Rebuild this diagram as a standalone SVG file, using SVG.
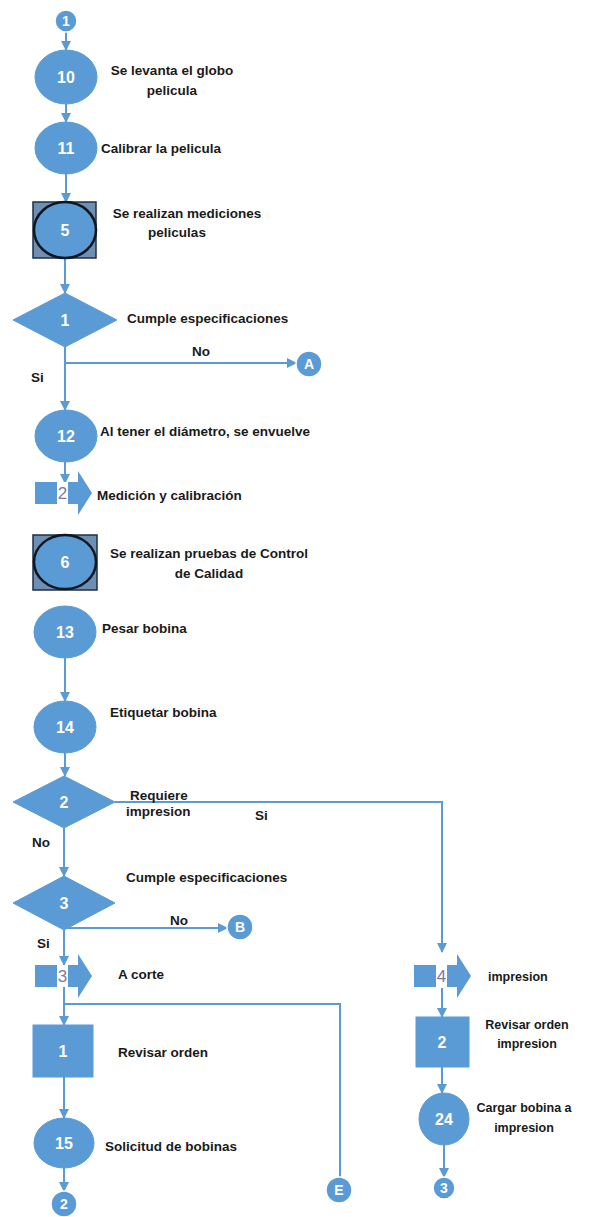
<svg xmlns="http://www.w3.org/2000/svg" width="595" height="1217" viewBox="0 0 595 1217">
<style>
.bg{fill:#ffffff}
.op{fill:#5B9BD5;stroke:#5B9BD5;stroke-width:1}
.ins{fill:#6F8EB4;stroke:#1E2F44;stroke-width:1.5}
.insc{fill:#5B9BD5;stroke:#0E1620;stroke-width:2.5}
.cn{fill:#5B9BD5;stroke:#ffffff;stroke-width:1.5}
.num{font-family:"Liberation Sans",Arial,sans-serif;font-weight:700;font-size:16px;fill:#ffffff;text-anchor:middle;dominant-baseline:central}
.cnum{font-family:"Liberation Sans",Arial,sans-serif;font-weight:700;font-size:14px;fill:#ffffff;text-anchor:middle;dominant-baseline:central}
.tnum{font-family:"Liberation Sans",Arial,sans-serif;font-weight:400;font-size:17px;fill:#7E7A9A;text-anchor:middle;dominant-baseline:central}
.lbl{font-family:"Liberation Sans",Arial,sans-serif;font-weight:700;font-size:13.5px;fill:#1a1a1a;dominant-baseline:central}
.sm{font-size:12.5px}
.mid{text-anchor:middle}
.ln{fill:none;stroke:#5B9BD5;stroke-width:2}
</style>
<defs>
<marker id="ah" viewBox="0 0 10 10" refX="9" refY="5" markerWidth="5.5" markerHeight="5" orient="auto" markerUnits="strokeWidth">
<path d="M0,0 L10,5 L0,10 z" fill="#5B9BD5"/>
</marker>
<g id="tr">
<rect x="0" y="-11" width="22" height="22" fill="#5B9BD5"/>
<rect x="22" y="-11" width="11" height="22" fill="#ffffff"/>
<rect x="33" y="-11" width="12" height="22" fill="#5B9BD5"/>
<polygon points="43,-22 57,0 43,22" fill="#5B9BD5"/>
</g>
</defs>
<rect class="bg" x="0" y="0" width="595" height="1217"/>

<g id="connectors">
<line class="ln" x1="66" y1="32" x2="66" y2="50" marker-end="url(#ah)"/>
<line class="ln" x1="66" y1="104" x2="66" y2="122" marker-end="url(#ah)"/>
<line class="ln" x1="66" y1="174" x2="66" y2="202" marker-end="url(#ah)"/>
<line class="ln" x1="65" y1="258" x2="65" y2="293" marker-end="url(#ah)"/>
<line class="ln" x1="65" y1="347" x2="65" y2="410" marker-end="url(#ah)"/>
<line class="ln" x1="65" y1="363" x2="296" y2="363" marker-end="url(#ah)"/>
<line class="ln" x1="65" y1="462" x2="65" y2="483" marker-end="url(#ah)"/>
<line class="ln" x1="65" y1="658" x2="65" y2="701" marker-end="url(#ah)"/>
<line class="ln" x1="65" y1="753" x2="65" y2="776" marker-end="url(#ah)"/>
<line class="ln" x1="64" y1="828" x2="64" y2="876" marker-end="url(#ah)"/>
<polyline class="ln" points="115,802 442,802 442,952" marker-end="url(#ah)"/>
<line class="ln" x1="64" y1="930" x2="64" y2="965" marker-end="url(#ah)"/>
<line class="ln" x1="64" y1="928" x2="227" y2="928" marker-end="url(#ah)"/>
<line class="ln" x1="64" y1="987" x2="64" y2="1025" marker-end="url(#ah)"/>
<polyline class="ln" points="64,1004 340,1004 340,1177"/>
<line class="ln" x1="64" y1="1077" x2="64" y2="1118" marker-end="url(#ah)"/>
<line class="ln" x1="64" y1="1168" x2="64" y2="1191" marker-end="url(#ah)"/>
<line class="ln" x1="442" y1="988" x2="442" y2="1017" marker-end="url(#ah)"/>
<line class="ln" x1="442" y1="1067" x2="442" y2="1093" marker-end="url(#ah)"/>
<line class="ln" x1="444" y1="1145" x2="444" y2="1177" marker-end="url(#ah)"/>
<text class="lbl" x="192" y="351">No</text>
<text class="lbl" x="31" y="377">Si</text>
<text class="lbl" x="255" y="815">Si</text>
<text class="lbl" x="32" y="842">No</text>
<text class="lbl" x="170" y="920">No</text>
<text class="lbl" x="37" y="943">Si</text>
</g>

<g id="c1"><circle class="cn" cx="66" cy="21" r="11"/><text class="cnum" x="66" y="21">1</text></g>
<g id="n10"><ellipse class="op" cx="66" cy="77" rx="31" ry="27"/><text class="num" x="66" y="77">10</text>
<text class="lbl mid" x="172" y="70">Se levanta el globo</text><text class="lbl mid" x="172" y="90">pelicula</text></g>
<g id="n11"><ellipse class="op" cx="66" cy="148" rx="31" ry="26"/><text class="num" x="66" y="148">11</text>
<text class="lbl" x="101" y="148">Calibrar la pelicula</text></g>
<g id="n5"><rect class="ins" x="33" y="202" width="63" height="56"/><ellipse class="insc" cx="65" cy="230" rx="31" ry="28"/><text class="num" x="65" y="230">5</text>
<text class="lbl mid" x="187" y="213">Se realizan mediciones</text><text class="lbl mid" x="177" y="232">peliculas</text></g>
<g id="d1"><polygon class="op" points="65,293 117,320 65,347 13,320"/><text class="num" x="65" y="320">1</text>
<text class="lbl" x="127" y="318">Cumple especificaciones</text></g>
<g id="A"><circle class="cn" cx="309" cy="364" r="13"/><text class="cnum" x="309" y="364">A</text></g>
<g id="n12"><ellipse class="op" cx="66" cy="436" rx="31" ry="26"/><text class="num" x="66" y="436">12</text>
<text class="lbl" x="100" y="431">Al tener el diámetro, se envuelve</text></g>
<g id="t2"><use href="#tr" x="35" y="493"/><text class="tnum" x="62.5" y="493">2</text>
<text class="lbl" x="97" y="495">Medición y calibración</text></g>
<g id="n6"><rect class="ins" x="33" y="535" width="64" height="55"/><ellipse class="insc" cx="65" cy="562" rx="31" ry="27"/><text class="num" x="65" y="562">6</text>
<text class="lbl mid" x="209" y="553">Se realizan pruebas de Control</text><text class="lbl mid" x="209" y="573">de Calidad</text></g>
<g id="n13"><ellipse class="op" cx="65" cy="632" rx="31" ry="26"/><text class="num" x="65" y="632">13</text>
<text class="lbl" x="102" y="628">Pesar bobina</text></g>
<g id="n14"><ellipse class="op" cx="65" cy="727" rx="31" ry="26"/><text class="num" x="65" y="727">14</text>
<text class="lbl" x="110" y="712">Etiquetar bobina</text></g>
<g id="d2"><polygon class="op" points="64,776 115,802 64,828 13,802"/><text class="num" x="64" y="802">2</text>
<text class="lbl" x="130" y="795">Requiere</text><text class="lbl" x="126" y="811">impresion</text></g>
<g id="d3"><polygon class="op" points="64,876 115,903 64,930 13,903"/><text class="num" x="64" y="903">3</text>
<text class="lbl" x="126" y="877">Cumple especificaciones</text></g>
<g id="B"><circle class="cn" cx="240" cy="927" r="13"/><text class="cnum" x="240" y="927">B</text></g>
<g id="t3"><use href="#tr" x="35" y="976"/><text class="tnum" x="62.5" y="976">3</text>
<text class="lbl" x="118" y="974">A corte</text></g>
<g id="box1"><rect class="op" x="33" y="1025" width="60" height="52"/><text class="num" x="63" y="1051">1</text>
<text class="lbl" x="118" y="1052">Revisar orden</text></g>
<g id="n15"><ellipse class="op" cx="64" cy="1143" rx="30" ry="25"/><text class="num" x="64" y="1143">15</text>
<text class="lbl" x="105" y="1146">Solicitud de bobinas</text></g>
<g id="c2"><circle class="cn" cx="64" cy="1204" r="13"/><text class="cnum" x="64" y="1204">2</text></g>
<g id="E"><circle class="cn" cx="339" cy="1190" r="13"/><text class="cnum" x="339" y="1190">E</text></g>
<g id="t4"><use href="#tr" x="414" y="976"/><text class="tnum" x="441.5" y="976">4</text>
<text class="lbl sm" x="488" y="977">impresion</text></g>
<g id="box2"><rect class="op" x="416" y="1017" width="53" height="50"/><text class="num" x="442" y="1042">2</text>
<text class="lbl sm mid" x="527" y="1025">Revisar orden</text><text class="lbl sm mid" x="527" y="1044">impresion</text></g>
<g id="n24"><ellipse class="op" cx="444" cy="1119" rx="25" ry="26"/><text class="num" x="444" y="1119">24</text>
<text class="lbl sm mid" x="524" y="1108">Cargar bobina a</text><text class="lbl sm mid" x="524" y="1128">impresion</text></g>
<g id="c3"><circle class="cn" cx="444" cy="1188" r="11"/><text class="cnum" x="444" y="1188">3</text></g>
</svg>
